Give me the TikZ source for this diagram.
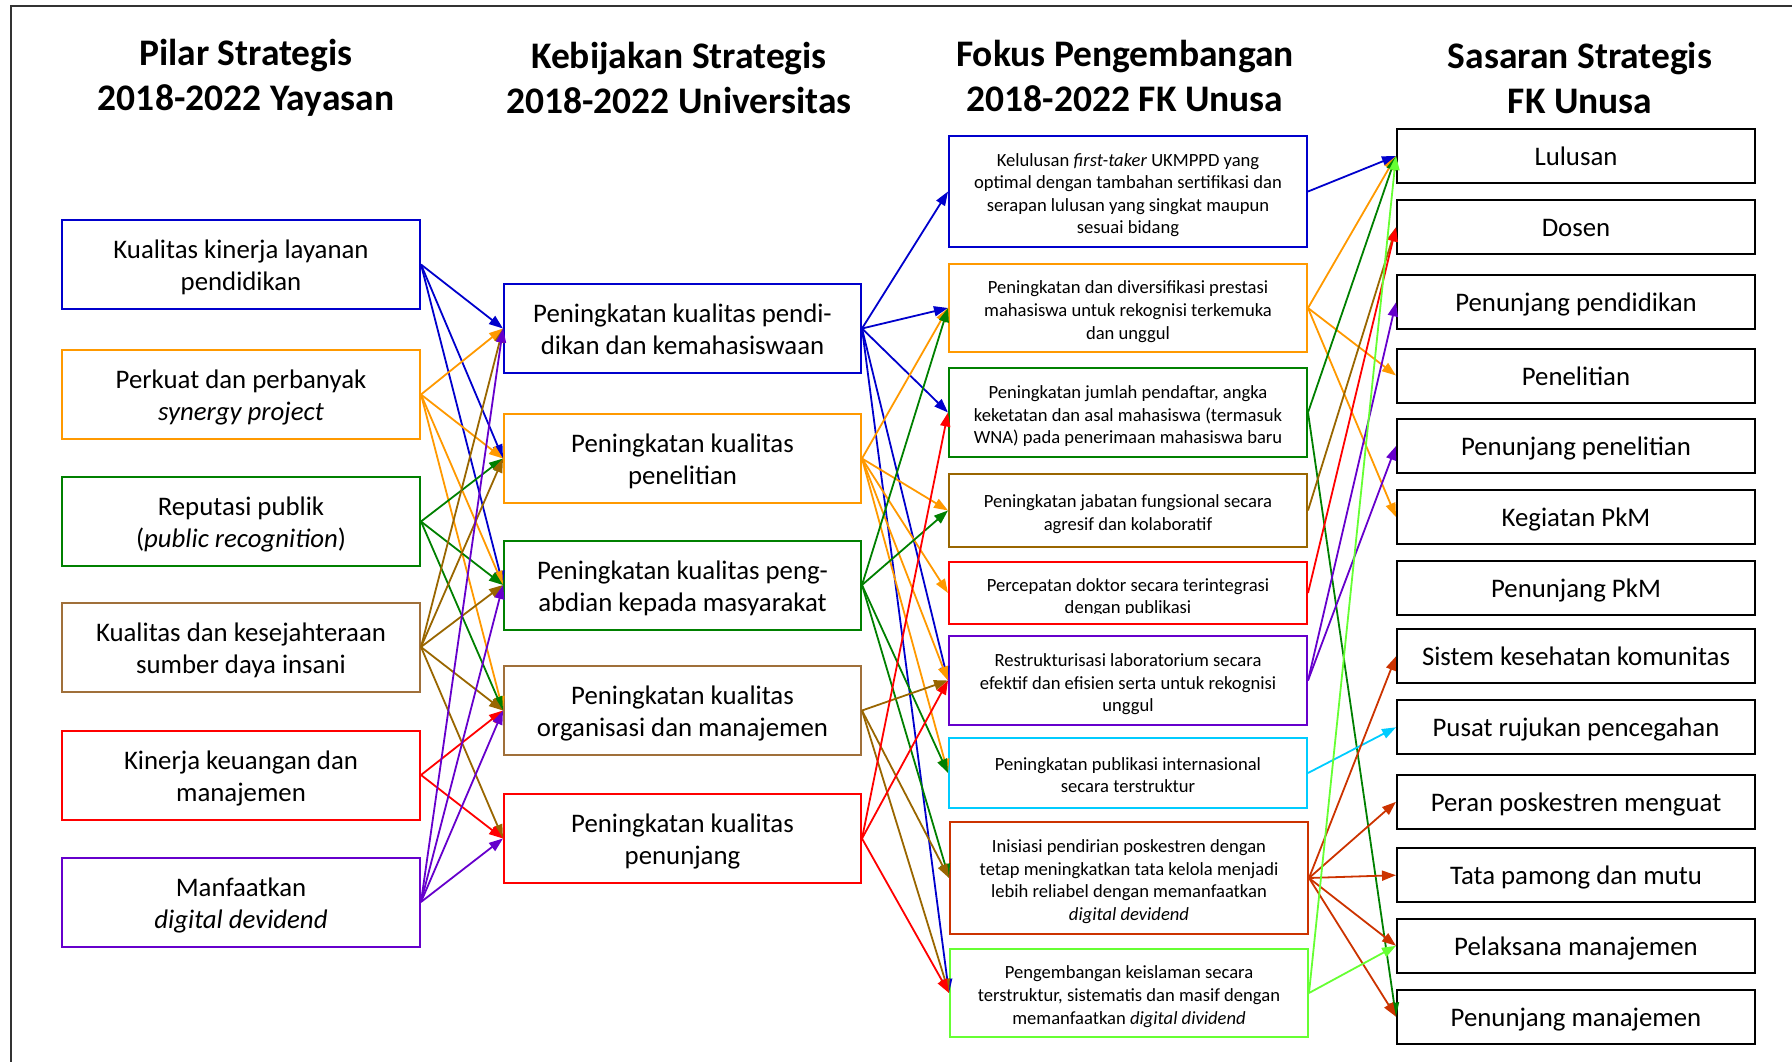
\documentclass[tikz,border=0pt]{standalone}
\usepackage{fontspec}
\setmainfont{Carlito}
\usetikzlibrary{arrows.meta}
\definecolor{cblue}{HTML}{0000CC}
\definecolor{corange}{HTML}{FF9900}
\definecolor{cgreen}{HTML}{008000}
\definecolor{cbrown}{HTML}{996600}
\definecolor{cbrownbox}{HTML}{A0703A}
\definecolor{cred}{HTML}{FF0000}
\definecolor{cpurple}{HTML}{6600CC}
\definecolor{ccyan}{HTML}{00CCFF}
\definecolor{crorange}{HTML}{CC3300}
\definecolor{clgreen}{HTML}{66FF33}
\newcommand\mlt[1]{\raisebox{-4pt}[\height][\depth]{\begin{tabular}{@{}c@{}}#1\end{tabular}}}
\tikzset{
  hd/.style={align=center, font=\bfseries\fontsize{37.5}{45}\selectfont},
  bx/.style={draw, line width=2pt, inner sep=0pt, font=\fontsize{26.8}{32}\selectfont},
  pbox/.style={bx, minimum width=358pt, minimum height=89pt},
  kbox/.style={bx, minimum width=357pt, minimum height=89pt},
  fbox/.style={draw, line width=2pt, inner sep=0pt, minimum width=358pt, font=\fontsize{18.6}{22.6}\selectfont},
  ftext/.style={inner sep=0pt, font=\fontsize{18.6}{22.6}\selectfont},
  sbox/.style={bx, draw=black, minimum width=358pt, minimum height=54pt, text height=19pt, text depth=0pt},
  ar/.style={-{Triangle[length=14pt,width=10pt]}, line width=1.8pt},
}
\begin{document}
\begin{tikzpicture}[x=1pt,y=-1pt]
\useasboundingbox (0,0) rectangle (1792,1062);
\draw[line width=2pt, black!80] (11,1062) -- (11,6) -- (1792,6);

% headings
\node[hd] (H1) at (246,78) {Pilar Strategis\\2018-2022 Yayasan};
\node[hd] (H2) at (679,78) {Kebijakan Strategis\\2018-2022 Universitas};
\node[hd] (H3) at (1125,76) {Fokus Pengembangan\\2018-2022 FK Unusa};
\node[hd] (H4) at (1580,78) {Sasaran Strategis\\FK Unusa};

% column 1
\node[pbox, draw=cblue] (P1) at (241,264.5) {\mlt{Kualitas kinerja layanan\\pendidikan}};
\node[pbox, draw=corange] (P2) at (241,394.5) {\mlt{Perkuat dan perbanyak\\\emph{synergy project}}};
\node[pbox, draw=cgreen] (P3) at (241,521.5) {\mlt{Reputasi publik\\(\emph{public recognition})}};
\node[pbox, draw=cbrownbox] (P4) at (241,647) {\mlt{Kualitas dan kesejahteraan\\sumber daya insani}};
\node[pbox, draw=cred] (P5) at (241,775) {\mlt{Kinerja keuangan dan\\manajemen}};
\node[pbox, draw=cpurple] (P6) at (241,902) {\mlt{Manfaatkan\\\emph{digital devidend}}};

% column 2
\node[kbox, draw=cblue] (K1) at (682.5,328.5) {\mlt{Peningkatan kualitas pendi-\\dikan dan kemahasiswaan}};
\node[kbox, draw=corange] (K2) at (682.5,458.5) {\mlt{Peningkatan kualitas\\penelitian}};
\node[kbox, draw=cgreen] (K3) at (682.5,585) {\mlt{Peningkatan kualitas peng-\\abdian kepada masyarakat}};
\node[kbox, draw=cbrownbox] (K4) at (682.5,710.5) {\mlt{Peningkatan kualitas\\organisasi dan manajemen}};
\node[kbox, draw=cred] (K5) at (682.5,838.5) {\mlt{Peningkatan kualitas\\penunjang}};

% column 3
\node[fbox, draw=cblue, minimum height=111pt] (F1) at (1128,191.5) {\mlt{Kelulusan \emph{first-taker} UKMPPD yang\\optimal dengan tambahan sertifikasi dan\\serapan lulusan yang singkat maupun\\sesuai bidang}};
\node[fbox, draw=corange, minimum height=88pt] (F2) at (1128,308) {\mlt{Peningkatan dan diversifikasi prestasi\\mahasiswa untuk rekognisi terkemuka\\dan unggul}};
\node[fbox, draw=cgreen, minimum height=89pt] (F3) at (1128,412.5) {\mlt{Peningkatan jumlah pendaftar, angka\\keketatan dan asal mahasiswa (termasuk\\WNA) pada penerimaan mahasiswa baru}};
\node[fbox, draw=cbrown, minimum height=73pt] (F4) at (1128,510.5) {\mlt{Peningkatan jabatan fungsional secara\\agresif dan kolaboratif}};
\node[fbox, draw=cred, minimum height=62pt] (F5) at (1128,593) {};
\begin{scope}
\clip (949,560) rectangle (1307,613);
\node[ftext] (F5t) at (1128,594) {\mlt{Percepatan doktor secara terintegrasi\\dengan publikasi}};
\end{scope}
\node[fbox, draw=cpurple, minimum height=89pt] (F6) at (1128,680.5) {\mlt{Restrukturisasi laboratorium secara\\efektif dan efisien serta untuk rekognisi\\unggul}};
\node[fbox, draw=ccyan, minimum height=70pt] (F7) at (1128,773) {\mlt{Peningkatan publikasi internasional\\secara terstruktur}};
\node[fbox, draw=crorange, minimum height=112pt] (F8) at (1129,878) {\mlt{Inisiasi pendirian poskestren dengan\\tetap meningkatkan tata kelola menjadi\\lebih reliabel dengan memanfaatkan\\\emph{digital devidend}}};
\node[fbox, draw=clgreen, minimum height=88pt] (F9) at (1129,993) {\mlt{Pengembangan keislaman secara\\terstruktur, sistematis dan masif dengan\\memanfaatkan \emph{digital dividend}}};

% column 4
\foreach \t/\y [count=\i] in {Lulusan/156, Dosen/227.3, Penunjang pendidikan/302.3, Penelitian/375.5, Penunjang penelitian/446, Kegiatan PkM/517, Penunjang PkM/587.5, Sistem kesehatan komunitas/656.3, Pusat rujukan pencegahan/727.3, Peran poskestren menguat/801.8, Tata pamong dan mutu/875.2, Pelaksana manajemen/945.8, Penunjang manajemen/1016.7}
  \node[sbox] (S\i) at (1576,\y) {\t};

% connectors column 1 -> 2
\foreach \t in {K1,K2,K3} \draw[ar, cblue] (P1.east) -- (\t.west);
\foreach \t in {K1,K2,K3,K4} \draw[ar, corange] (P2.east) -- (\t.west);
\foreach \t in {K2,K3,K4} \draw[ar, cgreen] (P3.east) -- (\t.west);
\foreach \t in {K1,K2,K3,K4,K5} \draw[ar, cbrown] (P4.east) -- (\t.west);
\foreach \t in {K4,K5} \draw[ar, cred] (P5.east) -- (\t.west);
\foreach \t in {K1,K3,K4,K5} \draw[ar, cpurple] (P6.east) -- (\t.west);

% connectors column 2 -> 3
\foreach \t in {F1,F2,F3,F6,F9} \draw[ar, cblue] (K1.east) -- (\t.west);
\foreach \t in {F2,F4,F5,F6,F7} \draw[ar, corange] (K2.east) -- (\t.west);
\foreach \t in {F2,F4,F7,F8} \draw[ar, cgreen] (K3.east) -- (\t.west);
\foreach \t in {F6,F8,F9} \draw[ar, cbrown] (K4.east) -- (\t.west);
\foreach \t in {F3,F6,F9} \draw[ar, cred] (K5.east) -- (\t.west);

% connectors column 3 -> 4
\draw[ar, cblue] (F1.east) -- (S1.west);
\foreach \t in {S1,S4,S6} \draw[ar, corange] (F2.east) -- (\t.west);
\foreach \t in {S1,S13} \draw[ar, cgreen] (F3.east) -- (\t.west);
\draw[ar, cbrown] (F4.east) -- (S2.west);
\draw[ar, cred] (F5.east) -- (S2.west);
\foreach \t in {S3,S5} \draw[ar, cpurple] (F6.east) -- (\t.west);
\draw[ar, ccyan] (F7.east) -- (S9.west);
\foreach \t in {S8,S10,S11,S12,S13} \draw[ar, crorange] (F8.east) -- (\t.west);
\foreach \t in {S1,S12} \draw[ar, clgreen] (F9.east) -- (\t.west);
\end{tikzpicture}
\end{document}
